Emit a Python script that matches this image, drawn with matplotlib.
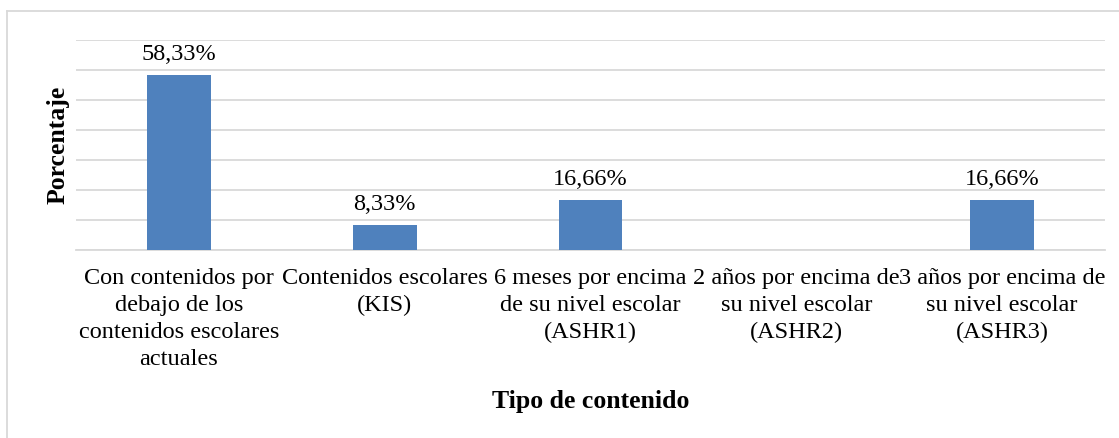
import matplotlib.pyplot as plt
from matplotlib.lines import Line2D

categorias = ["Con contenidos por\ndebajo de los\ncontenidos escolares\nactuales",
              "Contenidos escolares\n(KIS)",
              "6 meses por encima\nde su nivel escolar\n(ASHR1)",
              "2 años por encima de\nsu nivel escolar\n(ASHR2)",
              "3 años por encima de\nsu nivel escolar\n(ASHR3)"]
valores = [58.33, 8.33, 16.66, 0, 16.66]
etiquetas = ["58,33%", "8,33%", "16,66%", "", "16,66%"]

plt.rcParams['font.family'] = ['Liberation Serif', 'DejaVu Serif']

fig = plt.figure(figsize=(11.19, 4.38), dpi=100)
ax = fig.add_axes([76/1119, 1 - 250/438, (1105-76)/1119, 210/438])

x = range(len(categorias))
bars = ax.bar(x, valores, width=0.31, color='#4f81bd', zorder=3)
for b, t in zip(bars, etiquetas):
    if t:
        ax.text(b.get_x() + b.get_width()/2, b.get_height() + 3.5, t,
                ha='center', va='bottom', fontsize=17.5)

ax.set_xlim(-0.5, len(categorias) - 0.5)
ax.set_ylim(0, 70)
ax.set_yticks(range(0, 71, 10))
ax.set_yticklabels([])
ax.tick_params(axis='y', length=0)
ax.tick_params(axis='x', length=0, pad=13, labelsize=17.5)
ax.set_xticks(list(x))
ax.set_xticklabels(categorias, linespacing=1.38)
ax.grid(axis='y', color='#d9d9d9', linewidth=1.3, zorder=0)
for s in ['top', 'right', 'left']:
    ax.spines[s].set_visible(False)
ax.spines['bottom'].set_color('#d9d9d9')
ax.spines['bottom'].set_linewidth(1.3)

ax.set_ylabel("Porcentaje", fontsize=18.5, fontweight='bold', labelpad=1)
ax.set_xlabel("Tipo de contenido", fontsize=18.5, fontweight='bold', labelpad=14)

# marco del gráfico
fig.add_artist(Line2D([7/1119, 7/1119], [0, 1 - 11/438], color='#d9d9d9', lw=1.3))
fig.add_artist(Line2D([7/1119, 1], [1 - 11/438, 1 - 11/438], color='#d9d9d9', lw=1.3))

fig.savefig("out.png", dpi=100)
